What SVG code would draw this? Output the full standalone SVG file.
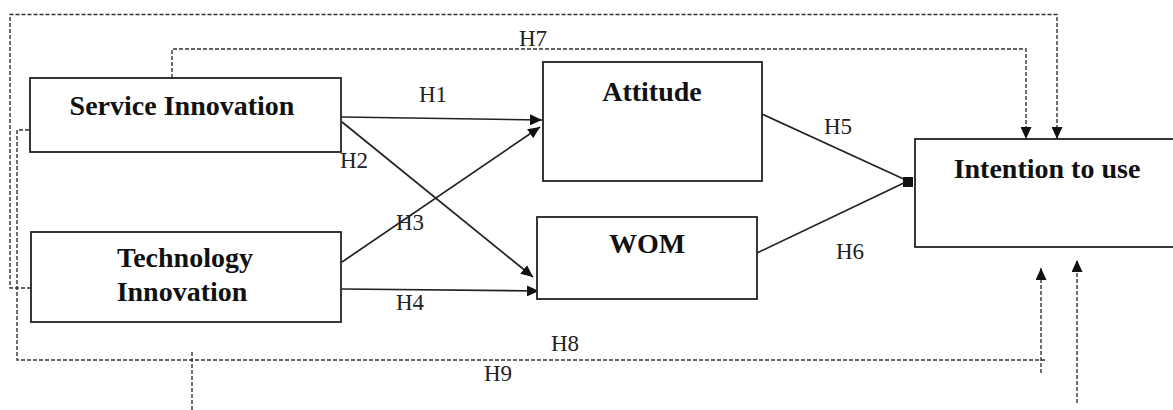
<svg xmlns="http://www.w3.org/2000/svg" width="1173" height="410" viewBox="0 0 1173 410">
<defs>
<marker id="ah" viewBox="0 0 12 11" refX="12" refY="5.5" markerWidth="12" markerHeight="11" markerUnits="userSpaceOnUse" orient="auto">
<path d="M0,0 L12,5.5 L0,11 Z" fill="#111"/>
</marker>
<style>
.box{fill:#fff;stroke:#222;stroke-width:1.8}
.lbl{font-family:"Liberation Serif","Times New Roman",serif;font-weight:bold;font-size:28px;fill:#111;text-anchor:middle}
.h{font-family:"Liberation Serif","Times New Roman",serif;font-size:23px;fill:#222;text-anchor:middle}
.solid{fill:none;stroke:#222;stroke-width:1.7}
.dash{fill:none;stroke:#333;stroke-width:1.4;stroke-dasharray:4 2}
</style>
</defs>
<rect width="1173" height="410" fill="#fff"/>
<g id="connectors">
<polyline class="dash" points="31,288 10,288 10,14.5 1057,14.5 1057,139" marker-end="url(#ah)"/>
<polyline class="dash" points="172,78 172,49 1026,49 1026,139" marker-end="url(#ah)"/>
<polyline class="dash" points="29,130 17,130 17,360 1046,360"/>
<line class="dash" x1="1041" y1="373" x2="1041" y2="268" marker-end="url(#ah)"/>
<line class="dash" x1="192" y1="352" x2="192" y2="410"/>
<line class="dash" x1="1077" y1="403" x2="1077" y2="260" marker-end="url(#ah)"/>
<line class="solid" x1="342" y1="117" x2="542" y2="120" marker-end="url(#ah)"/>
<line class="solid" x1="342" y1="122" x2="533" y2="277" marker-end="url(#ah)"/>
<line class="solid" x1="342" y1="262" x2="540" y2="127" marker-end="url(#ah)"/>
<line class="solid" x1="342" y1="289" x2="539" y2="291" marker-end="url(#ah)"/>
<line class="solid" x1="762" y1="114" x2="908" y2="181"/>
<line class="solid" x1="757" y1="253" x2="908" y2="181"/>
<rect x="903" y="177" width="10" height="10" fill="#111"/>
<text class="h" x="433" y="102">H1</text>
<text class="h" x="354" y="168">H2</text>
<text class="h" x="410" y="230">H3</text>
<text class="h" x="410" y="310">H4</text>
<text class="h" x="838" y="134">H5</text>
<text class="h" x="850" y="259">H6</text>
<text class="h" x="533" y="46">H7</text>
<text class="h" x="565" y="351">H8</text>
<text class="h" x="498" y="381">H9</text>
</g>
<g id="service">
<rect class="box" x="30" y="78" width="311" height="74"/>
<text class="lbl" x="182" y="115">Service Innovation</text>
</g>
<g id="technology">
<rect class="box" x="31" y="232" width="310" height="90"/>
<text class="lbl" x="185" y="267">Technology</text>
<text class="lbl" x="182" y="301">Innovation</text>
</g>
<g id="attitude">
<rect class="box" x="543" y="62" width="219" height="119"/>
<text class="lbl" x="652" y="101">Attitude</text>
</g>
<g id="wom">
<rect class="box" x="537" y="217" width="220" height="82"/>
<text class="lbl" x="647" y="253">WOM</text>
</g>
<g id="intention">
<rect class="box" x="915" y="139" width="270" height="108"/>
<text class="lbl" x="1047" y="178">Intention to use</text>
</g>
</svg>
